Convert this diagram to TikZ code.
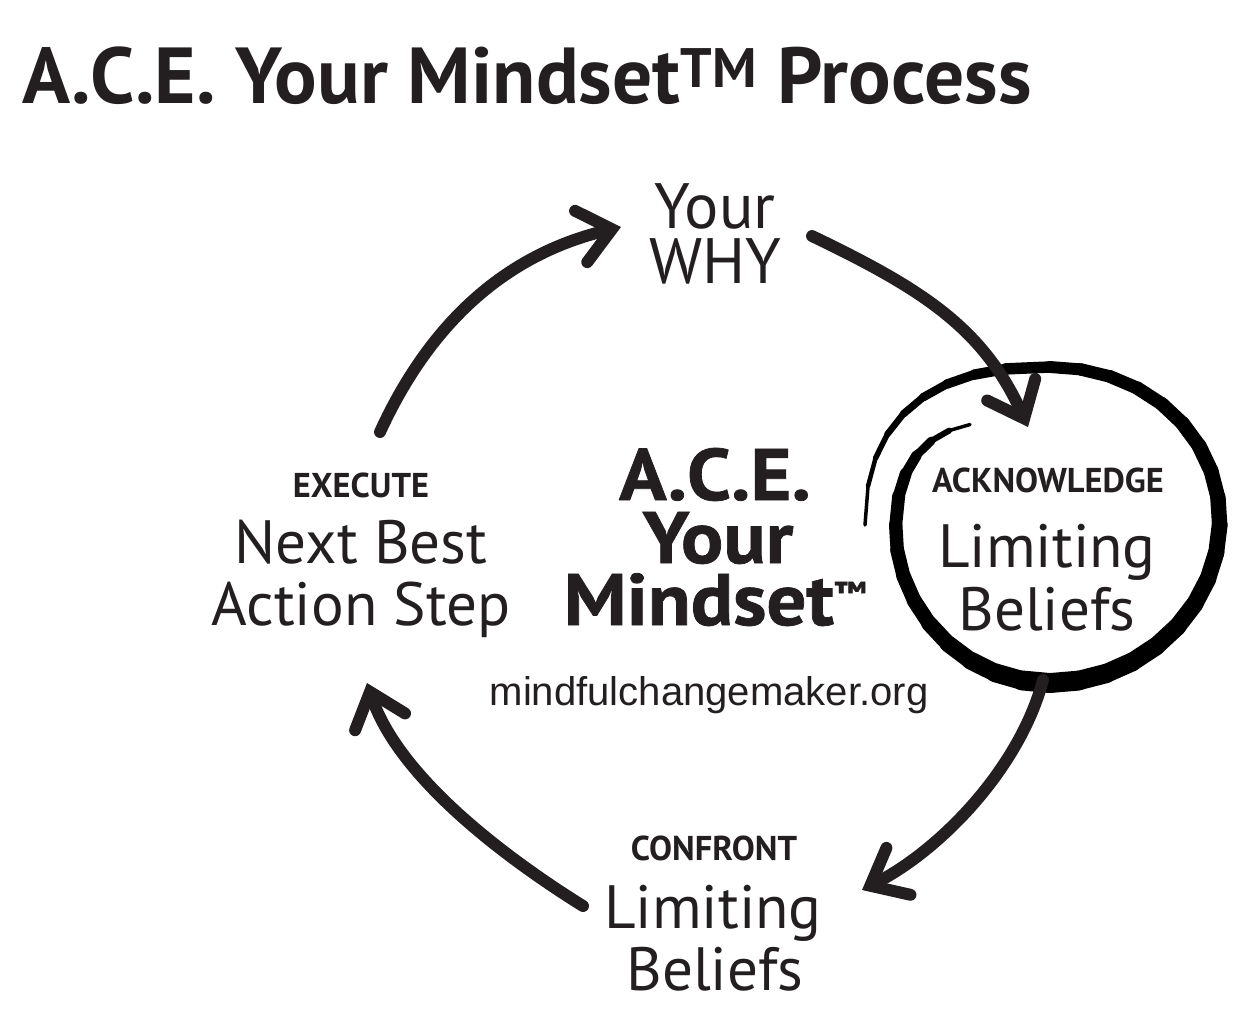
\documentclass[tikz,border=0pt]{standalone}
\usepackage{fontspec}
\setmainfont{PT Sans}
\newfontfamily\urlfont{Liberation Sans}
\newfontfamily\blackfont[FakeStretch=1.08,FakeBold=1]{PT Sans}
\usetikzlibrary{arrows.meta}
\definecolor{ink}{HTML}{231F20}
\begin{document}
\begin{tikzpicture}[x=0.02cm,y=-0.02cm,
  lbl/.style={text=ink,inner sep=0pt,anchor=base},
  biglbl/.style={lbl,font=\fontsize{34.8}{34.8}\selectfont},
  whylbl/.style={lbl,font=\fontsize{36.5}{36.5}\selectfont},
  capslbl/.style={lbl,font=\fontsize{19.6}{19.6}\selectfont\bfseries},
  midlbl/.style={lbl,font=\fontsize{41.5}{41.5}\selectfont\blackfont\bfseries},
  flow/.style={draw=ink,line width=6.8pt,line cap=round,
    -{Straight Barb[length=18pt,width=30pt,line cap=round,line join=miter]}}]
\useasboundingbox (0,0) rectangle (1250,1032);
% title
\node[lbl,anchor=base west,font=\fontsize{45.2}{45.2}\selectfont\bfseries] (title) at (22,103)
  {A.C.E. Your Mindset\textsuperscript{TM} Process};
% top
\node[whylbl] (why1) at (715,228) {Your};
\node[whylbl] (why2) at (715,283) {WHY};
% left
\node[capslbl] (exe) at (361,497) {EXECUTE};
\node[biglbl] (exe1) at (361,563) {Next Best};
\node[biglbl] (exe2) at (361,625) {Action Step};
% centre
\node[midlbl] (c1) at (715,500) {A.C.E.};
\node[midlbl] (c2) at (718,563) {Your};
\node[midlbl] (c3) at (715,625) {Mindset\raisebox{12pt}{\fontsize{18}{18}\selectfont ™}};
\node[lbl,font=\fontsize{22.8}{22.8}\selectfont\urlfont] (url) at (709,705) {mindfulchangemaker.org};
% right
\node[capslbl] (ack) at (1048,492) {ACKNOWLEDGE};
\node[biglbl] (ack1) at (1047,567) {Limiting};
\node[biglbl] (ack2) at (1047,630) {Beliefs};
% bottom
\node[capslbl] (con) at (714,860) {CONFRONT};
\node[biglbl] (con1) at (713,928) {Limiting};
\node[biglbl] (con2) at (715,990) {Beliefs};
% spiral around ACKNOWLEDGE
\foreach \a/\w in {180/3.5,170/4.5,160/5.5,150/6.5,140/7.5,130/8.5,120/9.5,110/10.5,100/11.5,
  90/12,80/12.5,70/13,60/13.5,50/14,40/14.5,30/15,20/15,10/15.5,0/16,-10/16.5,-20/17,
  -30/17.5,-40/18,-50/18.5,-60/19,-70/19.5,-80/20,-90/20,-100/19,-110/18,-120/17,-130/16,
  -140/15,-150/14.5,-160/14,-170/13.5,-180/13,-190/12,-200/10.5,-210/8.5,-220/6,-230/3.5}{
  \pgfmathsetmacro\b{\a-10}
  \pgfmathsetmacro\fa{(180-\a)/410}
  \pgfmathsetmacro\fb{(180-\b)/410}
  \pgfmathsetmacro\pa{ifthenelse(\a>90,0.8,ifthenelse(\a<-180,0.9,1))}
  \pgfmathsetmacro\pb{ifthenelse(\b>90,0.8,ifthenelse(\b<-180,0.9,1))}
  \pgfmathsetmacro\xa{1050+(185-35*\fa)*sign(cos(\a))*(abs(cos(\a))+0.0001)^\pa}
  \pgfmathsetmacro\ya{525-(158-38*(max(\fa-0.66,0)/0.34)^2)*sign(sin(\a))*(abs(sin(\a))+0.0001)^\pa}
  \pgfmathsetmacro\xb{1050+(185-35*\fb)*sign(cos(\b))*(abs(cos(\b))+0.0001)^\pb}
  \pgfmathsetmacro\yb{525-(158-38*(max(\fb-0.66,0)/0.34)^2)*sign(sin(\b))*(abs(sin(\b))+0.0001)^\pb}
  \draw[black,line width=\w*0.5669pt,line cap=round] (\xa,\ya) -- (\xb,\yb);
}
% arrows
\coordinate (a1s) at (380,432); \coordinate (a1e) at (621,227);
\coordinate (a2s) at (812,236); \coordinate (a2e) at (1028,427);
\coordinate (a3s) at (1043,680); \coordinate (a3e) at (862,890);
\coordinate (a4s) at (583,906); \coordinate (a4e) at (367,683);
\draw[flow] (a1s) .. controls (435,312) and (516,252) .. (a1e);
\draw[flow] (a2s) .. controls (920,288) and (983,327) .. (a2e);
\draw[flow] (a3s) .. controls (1020,767) and (942,849) .. (a3e);
\draw[flow] (a4s) .. controls (506,858) and (399,778) .. (a4e);
\end{tikzpicture}
\end{document}
